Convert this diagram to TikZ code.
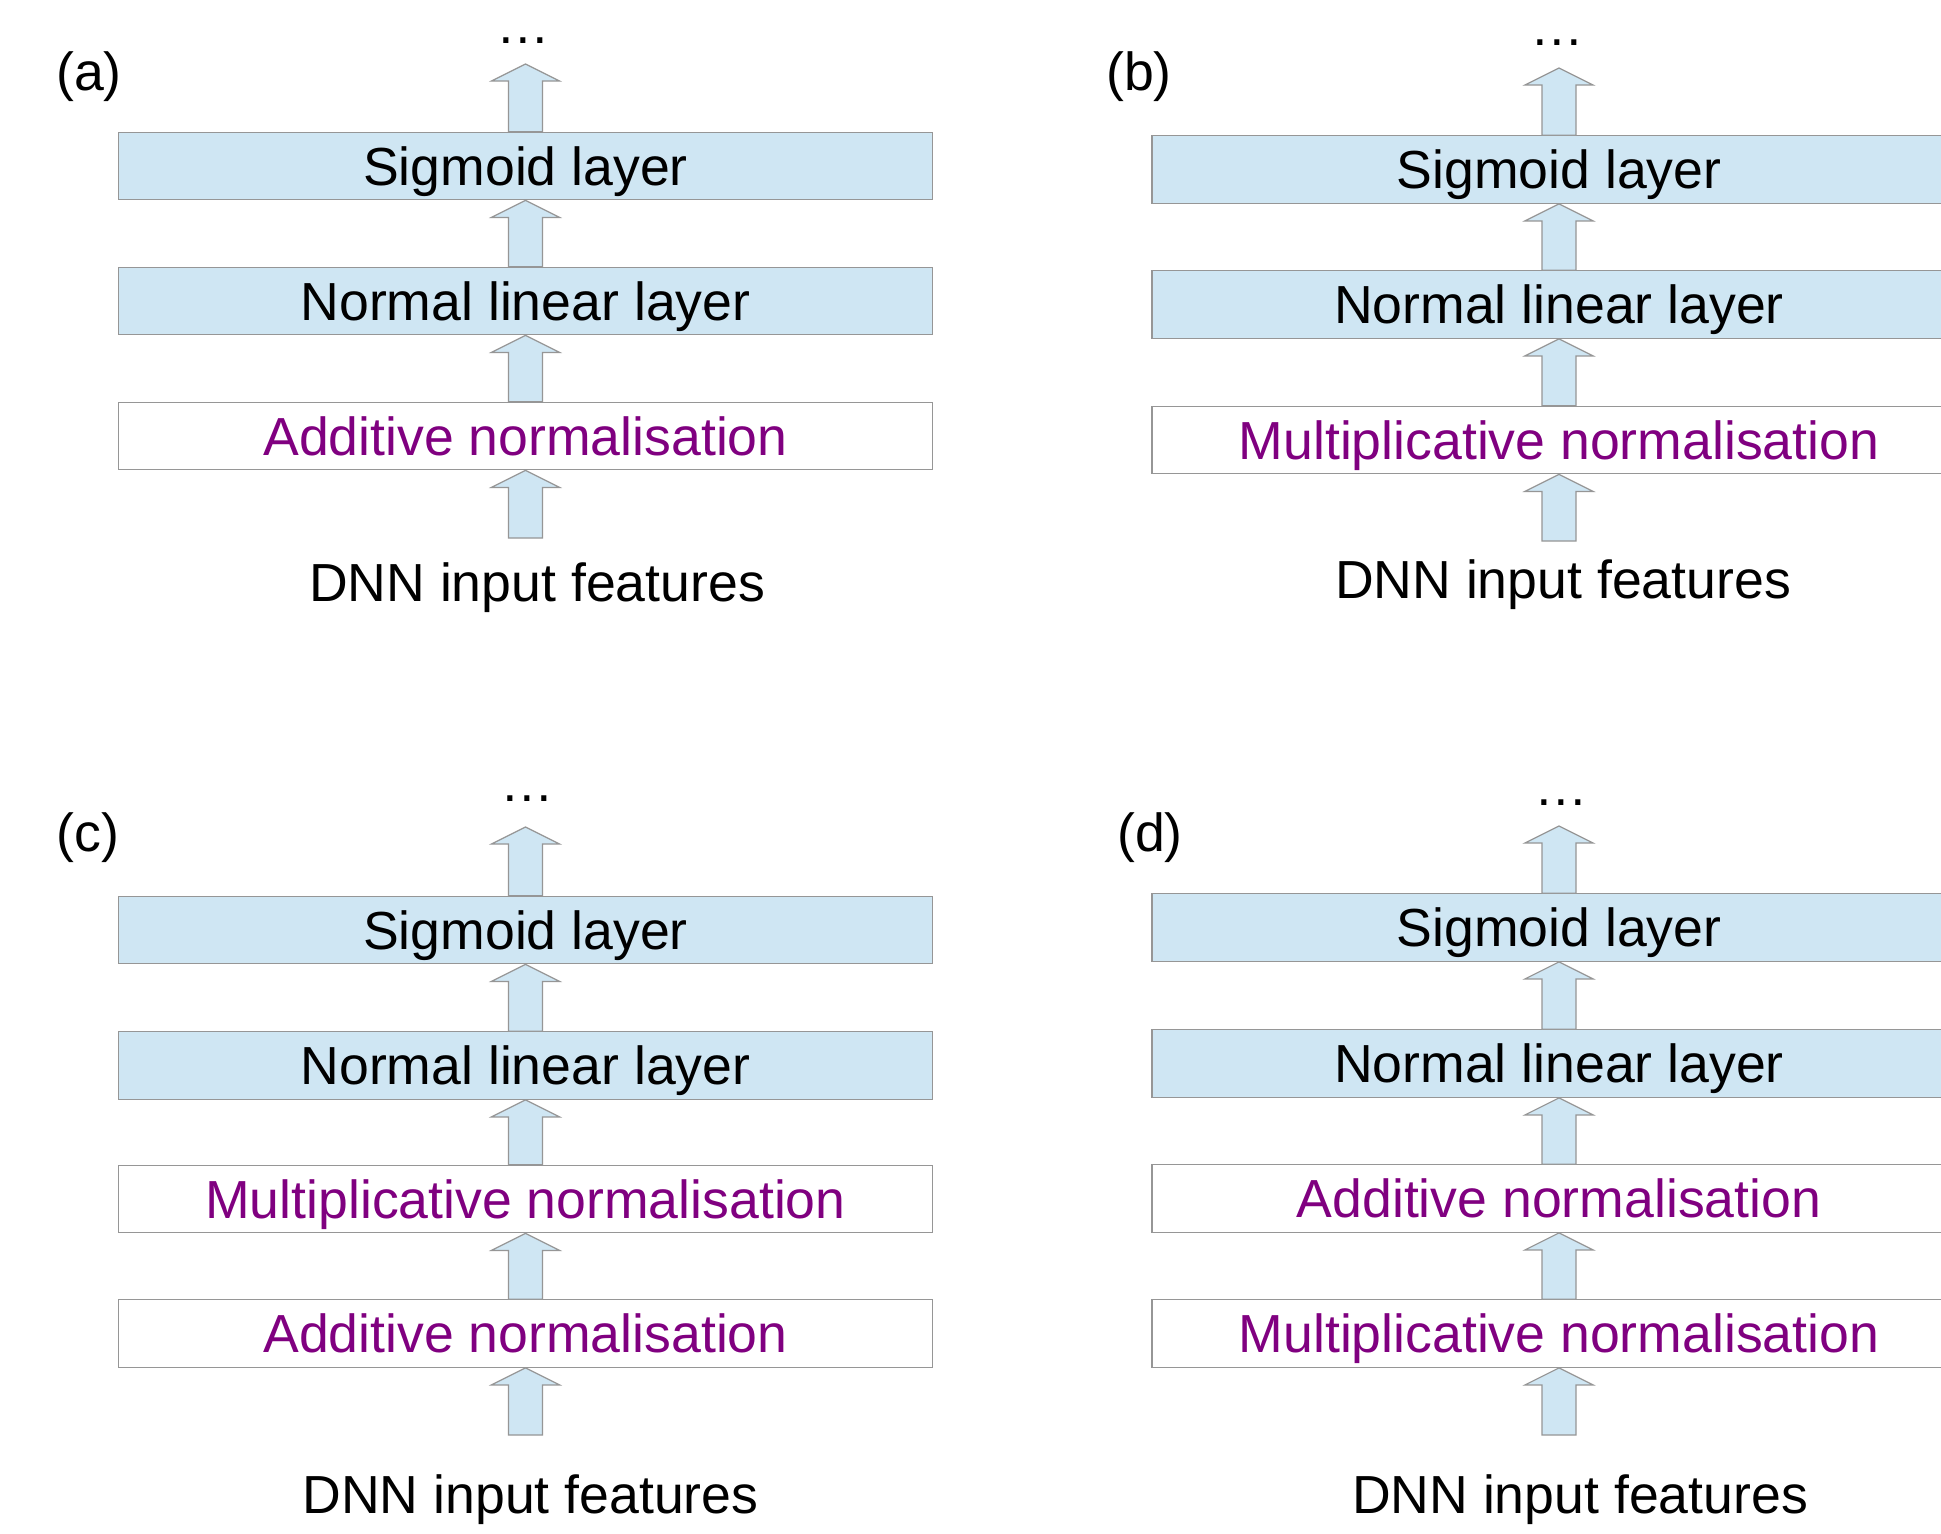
\documentclass[tikz,border=0pt]{standalone}
\usepackage{fontspec}
\setmainfont{Liberation Sans}
\usetikzlibrary{calc}
\definecolor{layerblue}{RGB}{207,230,243}
\definecolor{edgegray}{RGB}{150,150,150}
\definecolor{normpurple}{RGB}{128,0,128}
\newcommand\blockarr[2]{%
  \path[blockarrow] let \p1=(#1), \p2=(#2) in
    (\x1-17pt,\y1) -- (\x1-17pt,\y2-17pt) -- (\x1-34pt,\y2-17pt) -- (\x1,\y2)
    -- (\x1+34pt,\y2-17pt) -- (\x1+17pt,\y2-17pt) -- (\x1+17pt,\y1) -- cycle;}
\begin{document}
\begin{tikzpicture}[x=1pt,y=-1pt,
  bigfont/.style={font=\fontsize{53.6}{60}\selectfont},
  layer/.style={draw=edgegray, line width=1.3pt, fill=layerblue,
    minimum width=814pt, minimum height=67.5pt, inner sep=0pt,
    text height=38.4pt, text depth=0pt, bigfont},
  norm/.style={layer, fill=white, text=normpurple},
  plain/.style={inner sep=0pt, anchor=base, bigfont},
  blockarrow/.style={draw=edgegray, line width=1.2pt, fill=layerblue, line join=miter}]
\useasboundingbox (0,0) rectangle (1941,1534);
\clip (0,0) rectangle (1941,1534);
\fill[white] (0,0) rectangle (1941,1534);

% ---------- (a)
\node[plain] (la) at (89,90) {(a)};
\node[plain] (dota) at (523,43) {…};
\node[layer] (sa) at (525.5,166) {Sigmoid layer};
\node[layer] (na) at (525.5,301) {Normal linear layer};
\node[norm]  (aa) at (525.5,436) {Additive normalisation};
\coordinate (ta) at (525.5,64);
\coordinate (ba) at (525.5,538);
\node[plain] (ia) at (537,601) {DNN input features};
\blockarr{sa.north}{ta}
\blockarr{na.north}{sa.south}
\blockarr{aa.north}{na.south}
\blockarr{ba}{aa.south}

% ---------- (b)
\node[plain] (lb) at (1139,90) {(b)};
\node[plain] (dotb) at (1557,45.5) {…};
\node[layer] (sb) at (1559,169.5) {Sigmoid layer};
\node[layer] (nb) at (1559,304.5) {Normal linear layer};
\node[norm]  (mb) at (1559,440) {Multiplicative normalisation};
\coordinate (tb) at (1559,68);
\coordinate (bb) at (1559,541);
\node[plain] (ib) at (1563,598) {DNN input features};
\blockarr{sb.north}{tb}
\blockarr{nb.north}{sb.south}
\blockarr{mb.north}{nb.south}
\blockarr{bb}{mb.south}

% ---------- (c)
\node[plain] (lc) at (88,851) {(c)};
\node[plain] (dotc) at (527,801) {…};
\node[layer] (sc) at (525.5,930) {Sigmoid layer};
\node[layer] (nc) at (525.5,1065.5) {Normal linear layer};
\node[norm]  (mc) at (525.5,1199) {Multiplicative normalisation};
\node[norm]  (ac) at (525.5,1333.5) {Additive normalisation};
\coordinate (tc) at (525.5,827);
\coordinate (bc) at (525.5,1435);
\node[plain] (ic) at (530.5,1513) {DNN input features};
\blockarr{sc.north}{tc}
\blockarr{nc.north}{sc.south}
\blockarr{mc.north}{nc.south}
\blockarr{ac.north}{mc.south}
\blockarr{bc}{ac.south}

% ---------- (d)
\node[plain] (ld) at (1150,851) {(d)};
\node[plain] (dotd) at (1561,805) {…};
\node[layer] (sd) at (1559,927.5) {Sigmoid layer};
\node[layer] (nd) at (1559,1063.5) {Normal linear layer};
\node[norm]  (ad) at (1559,1198.5) {Additive normalisation};
\node[norm]  (md) at (1559,1333.5) {Multiplicative normalisation};
\coordinate (td) at (1559,826);
\coordinate (bd) at (1559,1435);
\node[plain] (id) at (1580,1513) {DNN input features};
\blockarr{sd.north}{td}
\blockarr{nd.north}{sd.south}
\blockarr{ad.north}{nd.south}
\blockarr{md.north}{ad.south}
\blockarr{bd}{md.south}
\end{tikzpicture}
\end{document}
